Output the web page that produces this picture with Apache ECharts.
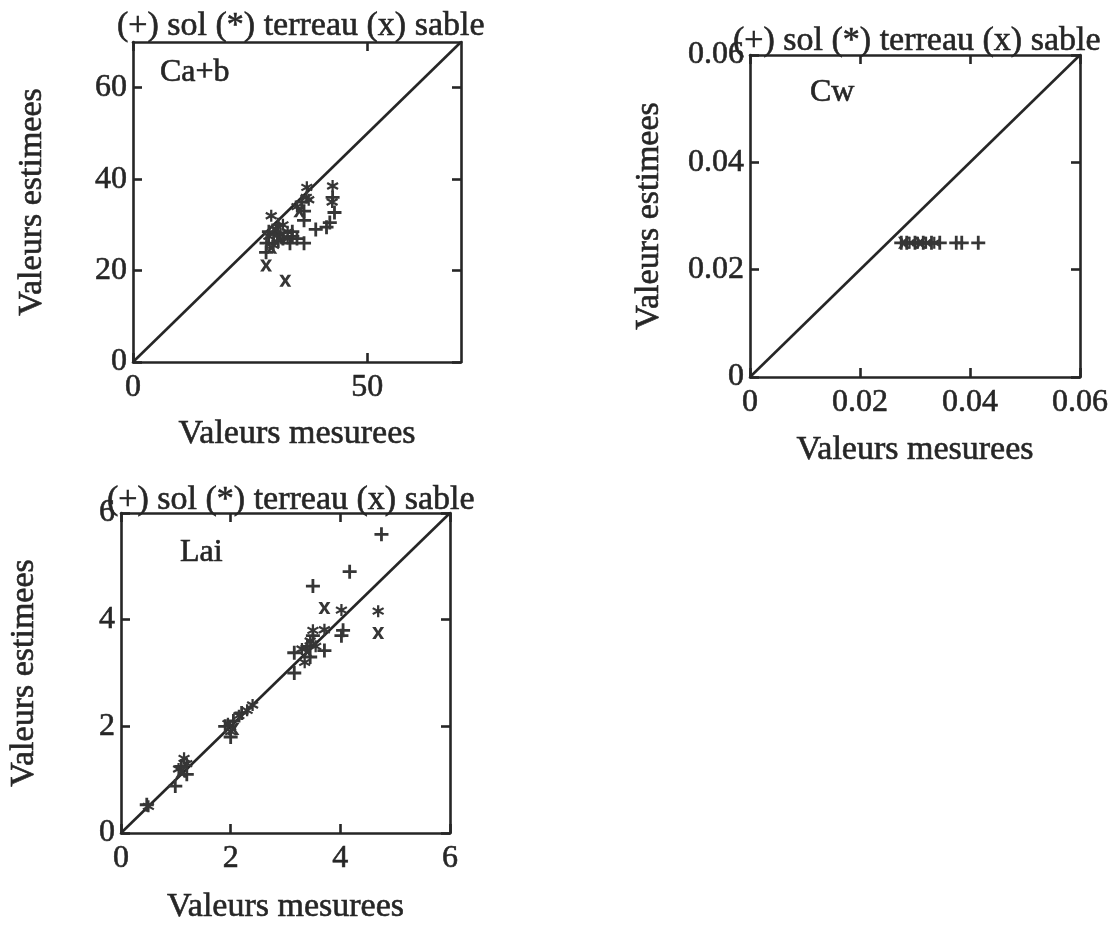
<!DOCTYPE html>
<html>
<head>
<meta charset="utf-8">
<script src="https://cdn.jsdelivr.net/npm/echarts@6/dist/echarts.min.js"></script>
<style>
  html, body { margin: 0; padding: 0; background: #ffffff; }
  #chart { width: 1110px; height: 925px; }
</style>
</head>
<body>
<div id="chart"></div>
<script>
// ---------- DATA ----------
// Panel Ca+b
const caXTicks = [0, 50];
const caYTicks = [0, 20, 40, 60];
const caDiag = [[0, 0], [70, 70]];
const caSol = [[28.4, 24], [28.5, 26], [30, 28], [31, 26.5], [32, 27], [33.5, 26], [34, 27.5], [35, 27],
  [36.5, 26], [36.5, 31], [39, 29], [41.3, 29.5], [42, 30.5], [43, 32.7], [42.6, 36], [36, 35],
  [36.5, 33], [29, 28.5], [31, 30], [34, 28.5]];
const caTerreau = [[29.5, 32], [29, 27.5], [30.5, 29], [31.5, 28], [33, 28.5], [32, 30], [30, 25.5],
  [37.1, 38.2], [37, 36], [37.5, 35.5], [42.6, 38.5], [42.5, 35], [35, 34], [33, 27]];
const caSable = [[28.4, 21.1], [32.5, 17.8], [29.5, 25], [31, 27], [35.5, 33]];

// Panel Cw
const cwTicks = [0, 0.02, 0.04, 0.06];
const cwDiag = [[0, 0], [0.06, 0.06]];
const cwSol = [[0.0275, 0.025], [0.0285, 0.025], [0.030, 0.025], [0.0315, 0.025], [0.033, 0.025],
  [0.0345, 0.025], [0.0375, 0.025], [0.0385, 0.025], [0.0415, 0.025]];
const cwTerreau = [[0.029, 0.025], [0.0305, 0.025], [0.032, 0.025], [0.0335, 0.025]];
const cwSable = [[0.028, 0.025], [0.031, 0.025]];

// Panel Lai
const laiTicks = [0, 2, 4, 6];
const laiDiag = [[0, 0], [6, 6]];
const laiSol = [[4.75, 5.6], [4.17, 4.9], [3.5, 4.63], [4.02, 3.7], [4.05, 3.8], [3.71, 3.42],
  [3.16, 3.38], [3.16, 3.0], [3.4, 3.5], [3.5, 3.7], [3.45, 3.3], [2.2, 2.25], [2.05, 2.1], [1.9, 2.0],
  [2.0, 1.8], [1.1, 1.25], [1.2, 1.1], [0.99, 0.88], [0.47, 0.53]];
const laiTerreau = [[4.02, 4.18], [4.69, 4.16], [3.71, 3.81], [3.35, 3.2], [3.5, 3.8], [3.45, 3.6],
  [3.55, 3.5], [3.3, 3.45], [2.4, 2.4], [2.3, 2.3], [2.15, 2.2], [1.95, 2.05], [2.0, 1.9], [1.2, 1.3],
  [1.15, 1.4], [1.05, 1.2], [0.5, 0.5]];
const laiSable = [[3.71, 4.22], [4.69, 3.75], [3.4, 3.4], [2.05, 1.95], [1.1, 1.15]];

const legendText = '(+) sol (*) terreau (x) sable';
const xName = 'Valeurs mesurees';
const yName = 'Valeurs estimees';

// ---------- STYLE ----------
const FONT = 'Liberation Serif';
const INK = '#262626';
const MARK = '#363636';
const PLUS = 'path://M4,0H6V4H10V6H6V10H4V6H0V4H4Z';
const STAR = 'path://M4.1,0L5.9,0L5.9,10L4.1,10ZM1.12,1.72L9.78,6.72L8.88,8.28L0.22,3.28ZM9.78,3.28L1.12,8.28L0.22,6.72L8.88,1.72Z';
const CROSS = 'path://M0,0L3,0L5,3.3L7,0L10,0L6.6,5L10,10L7,10L5,6.7L3,10L0,10L3.4,5Z';

const panels = [
  { grid: { left: 133, top: 42, width: 328, height: 320 }, min: 0, max: 70,
    xTicks: caXTicks, yTicks: caYTicks, diag: caDiag, sol: caSol, ter: caTerreau, sab: caSable,
    xGap: 55, yGap: 84 },
  { grid: { left: 750, top: 55, width: 330, height: 322 }, min: 0, max: 0.06,
    xTicks: cwTicks, yTicks: cwTicks, diag: cwDiag, sol: cwSol, ter: cwTerreau, sab: cwSable,
    xGap: 56, yGap: 84 },
  { grid: { left: 121, top: 513, width: 329, height: 320 }, min: 0, max: 6,
    xTicks: laiTicks, yTicks: laiTicks, diag: laiDiag, sol: laiSol, ter: laiTerreau, sab: laiSable,
    xGap: 57, yGap: 80 }
];

const lineStyle = { color: INK, width: 2.6 };
const fmt = v => String(v);
const heavy = { textBorderColor: INK, textBorderWidth: 0.6 };

const grid = [], xAxis = [], yAxis = [], series = [];
panels.forEach((p, i) => {
  grid.push(Object.assign({ outerBoundsMode: 'none', containLabel: false }, p.grid));
  const base = { type: 'value', gridIndex: i, min: p.min, max: p.max, splitLine: { show: false },
    axisLine: { show: true, onZero: false, lineStyle } };
  xAxis.push(Object.assign({}, base, {
    position: 'bottom',
    axisTick: { show: true, inside: true, length: 9, lineStyle, customValues: p.xTicks },
    axisLabel: Object.assign({ show: true, customValues: p.xTicks, formatter: fmt, fontFamily: FONT, fontSize: 32, color: INK, margin: 10 }, heavy),
    name: xName, nameLocation: 'middle', nameGap: p.xGap,
    nameTextStyle: Object.assign({ fontFamily: FONT, fontSize: 34, color: INK }, heavy)
  }));
  xAxis.push(Object.assign({}, base, {
    position: 'top',
    axisTick: { show: true, inside: true, length: 9, lineStyle, customValues: p.xTicks },
    axisLabel: { show: false }
  }));
  yAxis.push(Object.assign({}, base, {
    position: 'left',
    axisTick: { show: true, inside: true, length: 9, lineStyle, customValues: p.yTicks },
    axisLabel: Object.assign({ show: true, customValues: p.yTicks, formatter: fmt, fontFamily: FONT, fontSize: 32, color: INK, margin: 6 }, heavy),
    name: yName, nameLocation: 'middle', nameGap: p.yGap, nameRotate: 90,
    nameTextStyle: Object.assign({ fontFamily: FONT, fontSize: 34, color: INK }, heavy)
  }));
  yAxis.push(Object.assign({}, base, {
    position: 'right',
    axisTick: { show: true, inside: true, length: 9, lineStyle, customValues: p.yTicks },
    axisLabel: { show: false }
  }));
  const xi = 2 * i, yi = 2 * i;
  series.push({ type: 'line', xAxisIndex: xi, yAxisIndex: yi, data: p.diag, showSymbol: false,
    symbol: 'none', lineStyle: { color: INK, width: 2.6 }, silent: true, z: 2 });
  series.push({ type: 'scatter', name: 'sol', xAxisIndex: xi, yAxisIndex: yi, data: p.sol,
    symbol: PLUS, symbolSize: 14, itemStyle: { color: MARK, opacity: 1 }, z: 3 });
  series.push({ type: 'scatter', name: 'terreau', xAxisIndex: xi, yAxisIndex: yi, data: p.ter,
    symbol: STAR, symbolSize: 12, itemStyle: { color: MARK, opacity: 1 }, z: 3 });
  series.push({ type: 'scatter', name: 'sable', xAxisIndex: xi, yAxisIndex: yi, data: p.sab,
    symbol: CROSS, symbolSize: 12, itemStyle: { color: MARK, opacity: 1 }, z: 3 });
});

const tStyle = (size) => Object.assign({ fontFamily: FONT, fontSize: size, fontWeight: 'normal', color: INK }, heavy);
const title = [
  { text: legendText, left: 117, top: 9, padding: 0, textStyle: tStyle(34) },
  { text: legendText, left: 733, top: 24, padding: 0, textStyle: tStyle(34) },
  { text: legendText, left: 107, top: 483, padding: 0, textStyle: tStyle(34) },
  { text: 'Ca+b', left: 160, top: 57, padding: 0, textStyle: tStyle(32) },
  { text: 'Cw', left: 810, top: 77, padding: 0, textStyle: tStyle(32) },
  { text: 'Lai', left: 180, top: 537, padding: 0, textStyle: tStyle(32) }
];

const chart = echarts.init(document.getElementById('chart'), null, { renderer: 'canvas' });
chart.setOption({
  backgroundColor: '#ffffff',
  animation: false,
  title, grid, xAxis, yAxis, series
});
</script>
</body>
</html>
